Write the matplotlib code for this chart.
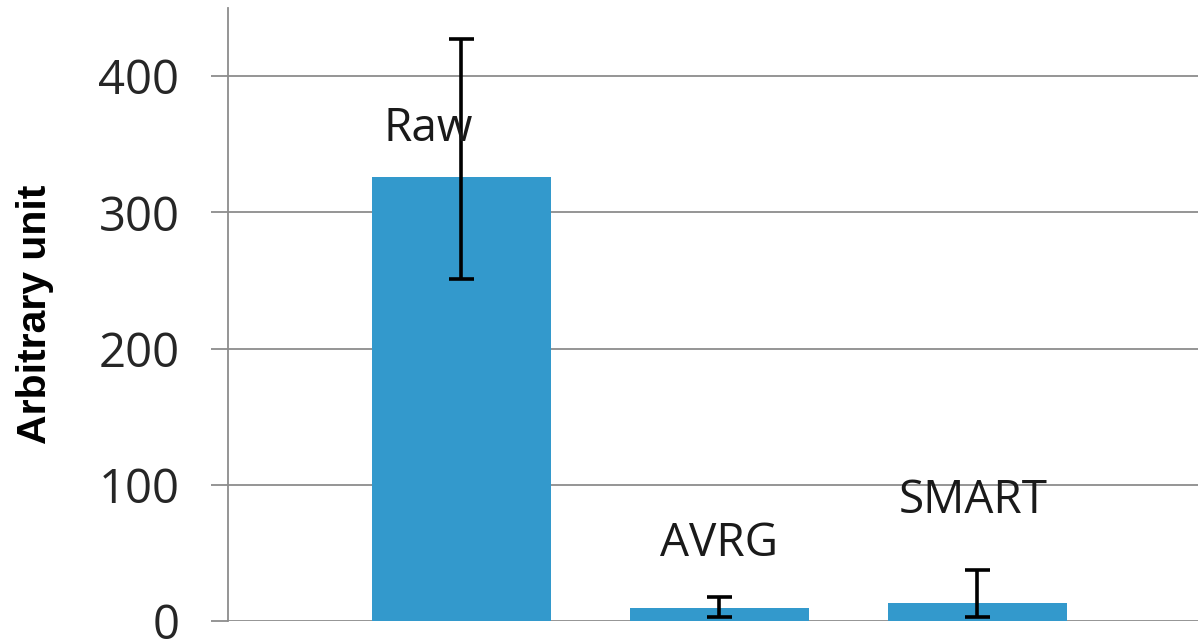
import matplotlib
matplotlib.use("Agg")
import matplotlib.pyplot as plt
import numpy as np

# ---- data ----
categories = ["Raw", "AVRG", "SMART"]
values = [326, 9.5, 13]
err_upper = [427, 17.5, 37.5]   # top of error bar
err_lower = [251, 3, 3]         # bottom of error bar
yticks = [0, 100, 200, 300, 400]
ylabel = "Arbitrary unit"

bar_color = "#3399CC"
grid_color = "#8C8C8C"

W, H, DPI = 1198, 639, 100
fig = plt.figure(figsize=(W / DPI, H / DPI), dpi=DPI)
ax = fig.add_axes([228 / W, 1 - 621 / H, 1 - 228 / W, (621 - 8) / H])

x = np.arange(len(categories))
vals = np.array(values)
yerr = np.vstack([vals - np.array(err_lower), np.array(err_upper) - vals])

ax.bar(x, vals, width=0.694, color=bar_color, zorder=2)
ax.errorbar(x, vals, yerr=yerr, fmt="none", ecolor="black", elinewidth=2.6,
            capsize=9, capthick=2.6, zorder=3)

# category labels placed above bars
label_dx = [-0.13, 0.0, -0.015]
label_y = [352, 48, 79]
for xi, name, dx, ly in zip(x, categories, label_dx, label_y):
    ax.text(xi + dx, ly, name, ha="center", va="baseline",
            fontsize=33, family="Open Sans", color="#1a1a1a", zorder=4)

ax.set_xlim(-0.905, 2.855)
ax.set_ylim(0, 450)
ax.set_yticks(yticks)
ax.set_yticklabels([str(t) for t in yticks], fontsize=34, family="Open Sans",
                   color="#262626")
ax.set_xticks([])

ax.yaxis.grid(True, color=grid_color, linewidth=1.3, zorder=0)
ax.set_axisbelow(True)
for s in ["top", "right", "bottom"]:
    ax.spines[s].set_visible(False)
ax.spines["left"].set_color(grid_color)
ax.spines["left"].set_linewidth(1.3)
ax.tick_params(axis="y", direction="out", length=12, width=1.3,
               color=grid_color, pad=23)

ax.set_ylabel(ylabel, fontsize=29.5, fontweight="bold", family="Liberation Sans",
              color="black")
ax.yaxis.set_label_coords((54 - 228) / (W - 228), 0.5)

fig.savefig("out.png", dpi=DPI)
